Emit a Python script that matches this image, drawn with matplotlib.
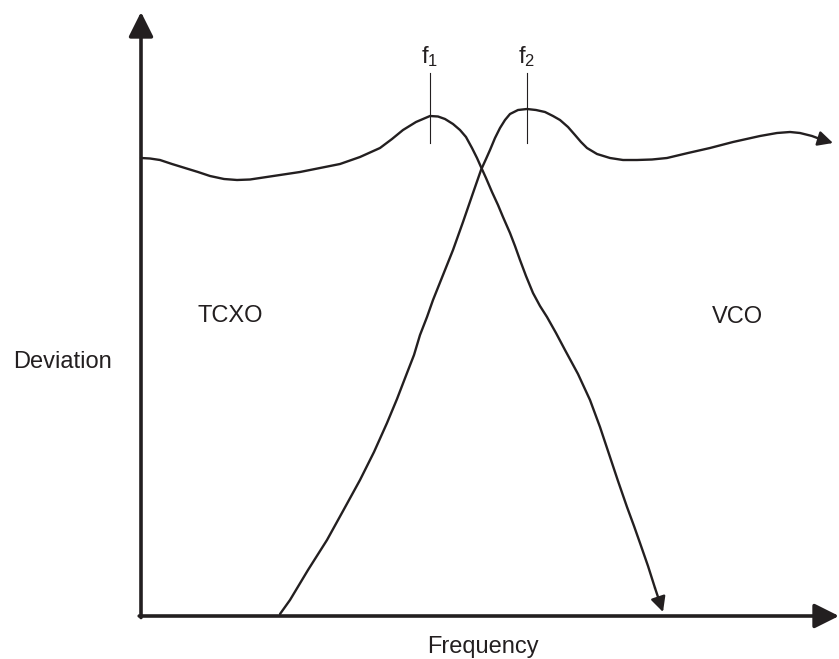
import matplotlib
matplotlib.use("Agg")
import matplotlib.pyplot as plt

plt.rcParams['font.family'] = ['Liberation Sans', 'DejaVu Sans']
plt.rcParams['mathtext.fontset'] = 'custom'
plt.rcParams['mathtext.rm'] = 'Liberation Sans'
plt.rcParams['mathtext.it'] = 'Liberation Sans'

ink = '#231f20'

# curves (frequency, deviation in arbitrary units)
tcxo_f = [0, 9, 19, 31, 44, 57, 69, 83, 96, 109, 119, 139, 159, 179, 199, 219, 239, 251,
          262, 275, 289, 297, 304, 312, 319, 325, 331, 336, 340, 345, 351, 357, 362, 369,
          374, 379, 385, 392, 399, 406, 415, 424, 437, 449, 459, 469, 477, 486, 493, 499,
          507, 514]
tcxo_d = [456, 455.5, 454, 450, 446, 442, 438, 435, 434, 434.5, 436, 439, 442, 446, 450,
          457, 466, 475, 484, 492, 498, 497.5, 495, 490, 484, 477, 466, 456, 447, 436, 422,
          409, 397, 381, 368, 354, 338, 321, 308, 297, 281, 264, 240, 214, 187, 157, 133,
          107, 88, 71, 48, 26]

vco_f = [139, 149, 167, 186, 202, 219, 233, 246, 256, 266, 273, 279, 286, 292, 302, 312,
         322, 332, 340, 345, 349, 354, 359, 364, 369, 377, 386, 395, 404, 412, 419, 427,
         434, 440, 446, 456, 469, 482, 496, 511, 526, 547, 569, 592, 619, 636, 649, 659,
         671, 679]
vco_d = [0, 14, 44, 74, 103, 134, 162, 191, 215, 241, 259, 279, 297, 314, 339, 364, 392,
         421, 444, 455, 464, 476, 486, 494, 500, 504, 505, 504, 502, 498, 494, 487, 479,
         472, 466, 460, 456, 454, 454, 454.5, 456, 461, 466, 472, 478, 481, 482, 481, 478,
         475]

tcxo_tip = (522, 2)
vco_tip = (692, 471)

f_marks = [289, 386]
f_labels = [r'$\mathrm{f}_1$', r'$\mathrm{f}_2$']

fig = plt.figure(figsize=(8.39, 6.59), dpi=100)
ax = fig.add_axes([0, 0, 1, 1])
ax.set_xlim(-141, 698)
ax.set_ylim(-45, 614)
ax.axis('off')

# axes with arrow heads
axis_arrow = dict(arrowstyle='-|>,head_length=1.0,head_width=0.5', mutation_scale=15,
                  lw=2.6, color=ink, shrinkA=0, shrinkB=0)
ax.annotate('', xy=(698, -2), xytext=(-1.8, -2), arrowprops=axis_arrow)
ax.annotate('', xy=(0, 602), xytext=(0, -3.5), arrowprops=axis_arrow)

ax.plot(tcxo_f, tcxo_d, color=ink, lw=1.7, solid_capstyle='round', solid_joinstyle='round')
ax.plot(vco_f, vco_d, color=ink, lw=1.7, solid_capstyle='round', solid_joinstyle='round')

curve_arrow = dict(arrowstyle='-|>,head_length=0.9,head_width=0.45', mutation_scale=10,
                   lw=1.7, color=ink, shrinkA=0, shrinkB=0)
ax.annotate('', xy=tcxo_tip, xytext=(tcxo_f[-1], tcxo_d[-1]), arrowprops=curve_arrow)
ax.annotate('', xy=vco_tip, xytext=(vco_f[-1], vco_d[-1]), arrowprops=curve_arrow)

for fm, lab in zip(f_marks, f_labels):
    ax.plot([fm, fm], [471, 541], color=ink, lw=0.8)
    ax.text(fm, 557, lab, fontsize=17, color=ink, ha='center', va='center')

ax.text(89, 298, 'TCXO', fontsize=17, color=ink, ha='center', va='center')
ax.text(596, 297, 'VCO', fontsize=17, color=ink, ha='center', va='center')
ax.text(-78, 252, 'Deviation', fontsize=17, color=ink, ha='center', va='center')
ax.text(342, -33, 'Frequency', fontsize=17, color=ink, ha='center', va='center')

fig.savefig('out.png', dpi=100)
